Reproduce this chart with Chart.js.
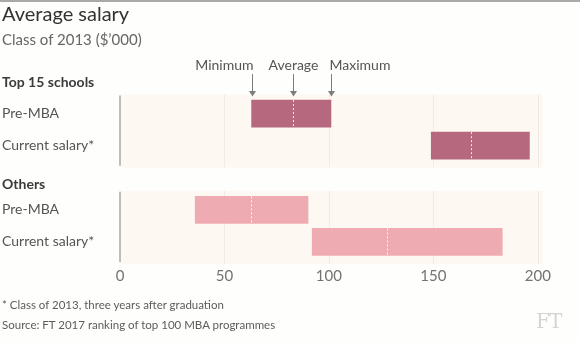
<!DOCTYPE html>
<html>
<head>
<meta charset="utf-8">
<script src="https://cdn.jsdelivr.net/npm/chart.js@4"></script>
<style>
  html, body { margin: 0; padding: 0; background: #fefefd; }
  #wrap { position: relative; width: 580px; height: 342px; overflow: hidden; font-family: Lato, "Open Sans", sans-serif; }
  #topline { position: absolute; left: 0; top: 0; width: 580px; height: 2px; background: #a9a9a9; }
  canvas { position: absolute; left: 0; top: 0; }
  .t { position: absolute; white-space: nowrap; line-height: 1; }
  #title { left: 2px; top: 3px; font-size: 20px; color: #333; }
  #sub { left: 2px; top: 31.5px; font-size: 15px; color: #666; }
  .grp { left: 2px; font-size: 14px; font-weight: bold; color: #3a3a3a; }
  .foot { left: 2px; font-size: 11.5px; color: #5c5c5c; }
  #ft { left: 536px; top: 311px; font-family: "DejaVu Serif", "Liberation Serif", serif; font-size: 20px; color: #d4d4d4; letter-spacing: -1px; }
</style>
</head>
<body>
<div id="wrap">
  <div id="topline"></div>
  <canvas id="c" width="580" height="342"></canvas>
  <div class="t" id="title">Average salary</div>
  <div class="t" id="sub">Class of 2013 ($’000)</div>
  <div class="t grp" id="g0" style="top:74.5px">Top 15 schools</div>
  <div class="t grp" id="g1" style="top:176.5px">Others</div>
  <div class="t foot" style="top:299px">* Class of 2013, three years after graduation</div>
  <div class="t foot" style="top:319px">Source: FT 2017 ranking of top 100 MBA programmes</div>
  <div class="t" id="ft">FT</div>
</div>
<script>
// ---- data ----
const rows = ['Pre-MBA', 'Current salary*', '', 'Pre-MBA', 'Current salary*'];
const minimum = [63, 149, null, 36, 92];
const average = [83, 168, null, 62.5, 128];
const maximum = [101, 196, null, 90, 183];
const groupRows = [[0, 1], [3, 4]];
const xTicks = [0, 50, 100, 150, 200];
const markerLabels = ['Minimum', 'Average', 'Maximum'];

// ---- styles ----
const barColors = ['#b6687e', '#b6687e', '#ffffff', '#efabb2', '#efabb2'];
const bandColor = '#fdf9f2';
const gridColor = '#f0ebe3';
const axisColor = '#bdbdbd';
const FONT = 'Lato, "Open Sans", sans-serif';

const floating = rows.map((_, i) => (minimum[i] == null ? null : [minimum[i], maximum[i]]));

const decor = {
  id: 'decor',
  beforeDatasetsDraw(chart) {
    const ctx = chart.ctx, xs = chart.scales.x, ys = chart.scales.y, area = chart.chartArea;
    ctx.save();
    groupRows.forEach(g => {
      const top = ys.getPixelForValue(g[0]) - 19;
      const bot = ys.getPixelForValue(g[g.length - 1]) + 22;
      ctx.fillStyle = bandColor;
      ctx.fillRect(area.left, top, area.right - area.left, bot - top);
      ctx.strokeStyle = gridColor;
      ctx.lineWidth = 1;
      xTicks.forEach(v => {
        if (v === 0) return;
        const x = Math.round(xs.getPixelForValue(v)) + 0.5;
        ctx.beginPath(); ctx.moveTo(x, top); ctx.lineTo(x, bot); ctx.stroke();
      });
      ctx.strokeStyle = axisColor;
      ctx.lineWidth = 2;
      const x0 = xs.getPixelForValue(0);
      ctx.beginPath();
      ctx.moveTo(x0, ys.getPixelForValue(g[0]) - 18);
      ctx.lineTo(x0, ys.getPixelForValue(g[g.length - 1]) + 20);
      ctx.stroke();
    });
    ctx.restore();
  },
  afterDatasetsDraw(chart) {
    const ctx = chart.ctx, xs = chart.scales.x;
    const meta = chart.getDatasetMeta(0);
    ctx.save();
    // average markers
    ctx.strokeStyle = 'rgba(255,255,255,0.85)';
    ctx.lineWidth = 1;
    ctx.setLineDash([2, 2]);
    rows.forEach((_, i) => {
      if (average[i] == null) return;
      const el = meta.data[i];
      const x = Math.round(xs.getPixelForValue(average[i])) + 0.5;
      const h = el.height;
      ctx.beginPath(); ctx.moveTo(x, el.y - h / 2); ctx.lineTo(x, el.y + h / 2); ctx.stroke();
    });
    ctx.setLineDash([]);
    // annotation arrows on first bar
    const el0 = meta.data[0];
    const barTop = el0.y - el0.height / 2;
    const vals = [minimum[0], average[0], maximum[0]];
    const aligns = ['right', 'center', 'left'];
    const shifts = [1, 0, -2];
    ctx.strokeStyle = '#7d7d7d';
    ctx.fillStyle = '#7d7d7d';
    ctx.lineWidth = 1;
    vals.forEach((v, k) => {
      const x = Math.round(xs.getPixelForValue(v)) + 0.5;
      ctx.beginPath(); ctx.moveTo(x, barTop - 26); ctx.lineTo(x, barTop - 7); ctx.stroke();
      ctx.beginPath(); ctx.moveTo(x - 3.5, barTop - 9); ctx.lineTo(x + 3.5, barTop - 9); ctx.lineTo(x, barTop - 3.5); ctx.closePath(); ctx.fill();
      ctx.save();
      ctx.fillStyle = '#555';
      ctx.font = '14px ' + FONT;
      ctx.textAlign = aligns[k];
      ctx.textBaseline = 'alphabetic';
      ctx.fillText(markerLabels[k], x + shifts[k], barTop - 30);
      ctx.restore();
    });
    ctx.restore();
  }
};

new Chart(document.getElementById('c'), {
  type: 'bar',
  data: {
    labels: rows,
    datasets: [{
      data: floating,
      backgroundColor: barColors,
      borderWidth: 0,
      borderSkipped: false,
      barThickness: 27
    }]
  },
  options: {
    indexAxis: 'y',
    responsive: false,
    animation: false,
    layout: { padding: { top: 97.5, left: 2, right: 37, bottom: 0 } },
    plugins: { legend: { display: false }, tooltip: { enabled: false } },
    scales: {
      x: {
        type: 'linear',
        min: 0,
        max: 202.5,
        afterBuildTicks(scale) { scale.ticks = xTicks.map(v => ({ value: v })); },
        afterFit(scale) { scale.height = 84; },
        grid: { display: false, drawTicks: false },
        border: { display: false },
        ticks: { color: '#737373', font: { family: FONT, size: 15 }, padding: 9 }
      },
      y: {
        type: 'category',
        afterFit(scale) { scale.width = 118; },
        grid: { display: false, drawTicks: false },
        border: { display: false },
        ticks: { color: '#555', crossAlign: 'far', font: { family: FONT, size: 14 }, padding: 0 }
      }
    }
  },
  plugins: [decor]
});
</script>
</body>
</html>
